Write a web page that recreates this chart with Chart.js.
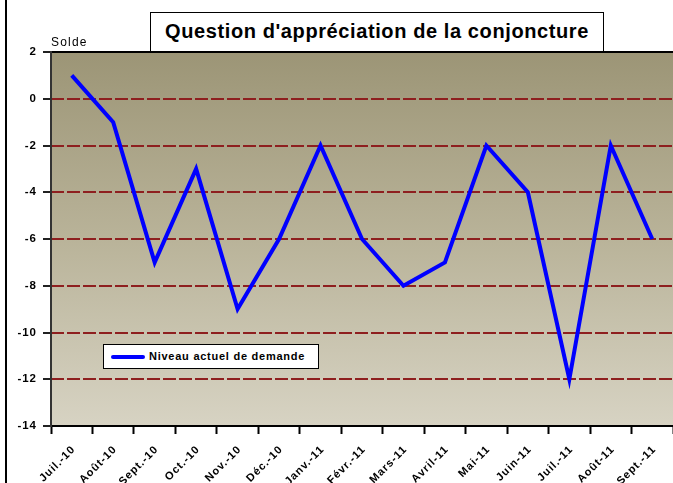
<!DOCTYPE html>
<html>
<head>
<meta charset="utf-8">
<script src="https://cdn.jsdelivr.net/npm/chart.js@4/dist/chart.umd.min.js"></script>
<style>
  html, body { margin: 0; padding: 0; background: #fff; }
  #wrap { position: relative; width: 673px; height: 483px; overflow: hidden; font-family: "Liberation Sans", Arial, sans-serif; }
  #c { position: absolute; left: 0; top: 0; }
  #frameLeft { position: absolute; left: 5px; top: 0; width: 2px; height: 483px; background: #000; }
  #title { position: absolute; left: 150px; top: 12px; width: 454px; height: 40px; box-sizing: border-box;
           border: 1.5px solid #000; background: #fff; font-weight: bold; font-size: 20px; letter-spacing: 0.6px;
           text-align: center; line-height: 37px; color: #000; white-space: nowrap; }
  #solde { position: absolute; left: 51px; top: 35px; font-size: 12px; letter-spacing: 1.2px; color: #000; }
  #legend { position: absolute; left: 103px; top: 344px; width: 216px; height: 25px; box-sizing: border-box;
            border: 1px solid #000; background: #fff; }
  #legend .sw { position: absolute; left: 7px; top: 10px; width: 34px; height: 4px; background: #0000ff; border-radius: 2px; }
  #legend .tx { position: absolute; left: 45px; top: 5px; font-size: 11px; font-weight: bold; letter-spacing: 0.75px; color: #000; white-space: nowrap; }
</style>
</head>
<body>
<div id="wrap">
  <canvas id="c" width="673" height="483"></canvas>
  <div id="frameLeft"></div>
  <div id="title">Question d'appréciation de la conjoncture</div>
  <div id="solde">Solde</div>
  <div id="legend"><span class="sw"></span><span class="tx" id="legendText"></span></div>
</div>
<script>
const categories = ["Juil.-10","Août-10","Sept.-10","Oct.-10","Nov.-10","Déc.-10","Janv.-11","Févr.-11","Mars-11","Avril-11","Mai-11","Juin-11","Juil.-11","Août-11","Sept.-11"];
const seriesName = "Niveau actuel de demande";
const seriesValues = [1, -1, -7, -3, -9, -6, -2, -6, -8, -7, -2, -4, -12, -2, -6];
const yTicks = [2, 0, -2, -4, -6, -8, -10, -12, -14];

document.getElementById('legendText').textContent = seriesName;

const bgPlugin = {
  id: 'bg',
  beforeDraw(chart) {
    const a = chart.chartArea, ctx = chart.ctx;
    const g = ctx.createLinearGradient(0, a.top, 0, a.bottom);
    g.addColorStop(0, '#9c9576');
    g.addColorStop(0.5, '#b9b399');
    g.addColorStop(1, '#d7d3c3');
    ctx.save();
    ctx.fillStyle = g;
    ctx.fillRect(a.left, a.top, a.right - a.left, a.bottom - a.top);
    ctx.restore();
    if ('letterSpacing' in ctx) ctx.letterSpacing = '1px';
  },
  afterDatasetsDraw(chart) {
    const a = chart.chartArea, ctx = chart.ctx;
    ctx.save();
    ctx.lineWidth = 2;
    ctx.strokeStyle = '#000';
    ctx.beginPath();
    ctx.moveTo(a.left, a.top); ctx.lineTo(a.right + 2, a.top);
    ctx.moveTo(a.left, a.bottom); ctx.lineTo(a.right + 2, a.bottom);
    ctx.stroke();
    ctx.strokeStyle = '#333';
    ctx.beginPath();
    ctx.moveTo(a.left, a.top - 1); ctx.lineTo(a.left, a.bottom + 1);
    ctx.stroke();
    ctx.restore();
  }
};

new Chart(document.getElementById('c'), {
  type: 'line',
  data: {
    labels: categories,
    datasets: [{
      label: seriesName,
      data: seriesValues,
      borderColor: '#0000ff',
      borderWidth: 4,
      pointRadius: 0,
      tension: 0,
      fill: false,
      borderJoinStyle: 'miter'
    }]
  },
  options: {
    responsive: false,
    devicePixelRatio: 1,
    animation: false,
    layout: { padding: { top: 52, left: 0, right: 0, bottom: 0 } },
    plugins: { legend: { display: false }, title: { display: false }, tooltip: { enabled: false } },
    scales: {
      x: {
        offset: true,
        afterFit(scale) { scale.height = 57; },
        grid: {
          offset: true,
          drawOnChartArea: false,
          drawTicks: true,
          tickLength: 8,
          tickColor: '#000',
          tickWidth: 2
        },
        border: { display: false },
        ticks: {
          autoSkip: false,
          minRotation: 45,
          maxRotation: 45,
          padding: 9,
          labelOffset: 2,
          color: '#000',
          font: { family: '"Liberation Sans", Arial, sans-serif', size: 11, weight: 'bold' }
        }
      },
      y: {
        min: -14,
        max: 2,
        afterFit(scale) { scale.width = 51; },
        afterBuildTicks(scale) { scale.ticks = yTicks.map(v => ({ value: v })); },
        grid: {
          color: ctx => (ctx.tick && (ctx.tick.value === 2 || ctx.tick.value === -14)) ? 'rgba(0,0,0,0)' : '#8e1f1f',
          lineWidth: 2,
          drawTicks: true,
          tickLength: 8,
          tickColor: '#222',
          tickWidth: 2,
          tickBorderDash: []
        },
        border: { display: false, dash: [13, 3] },
        ticks: {
          padding: 6,
          color: '#000',
          font: { family: '"Liberation Sans", Arial, sans-serif', size: 11.5, weight: 'bold' }
        }
      }
    }
  },
  plugins: [bgPlugin]
});
</script>
</body>
</html>
